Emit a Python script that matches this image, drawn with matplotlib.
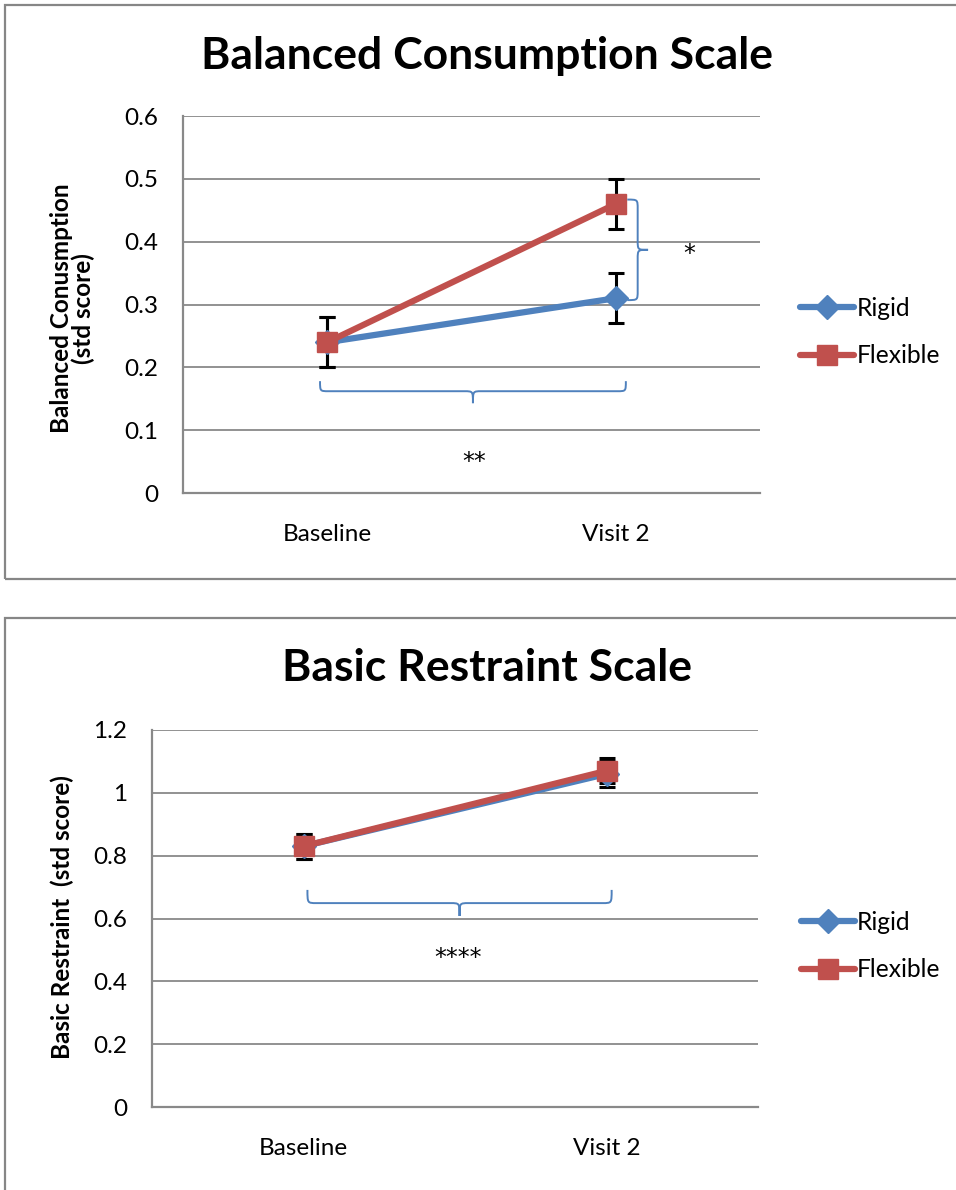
import matplotlib.pyplot as plt
import matplotlib.patches as patches
from matplotlib.path import Path

plt.rcParams['font.family'] = ['Lato', 'DejaVu Sans']

visits = ['Baseline', 'Visit 2']

# Balanced consumption
bc_rigid = [0.24, 0.31]
bc_flex = [0.24, 0.46]
bc_err = [0.04, 0.04]

# Basic restraint
br_rigid = [0.83, 1.06]
br_flex = [0.83, 1.07]
br_err = [0.04, 0.04]

BLUE = '#4F81BD'
RED = '#C0504D'
GRID = '#898989'


def hbrace(ax, x0, x1, ytop, ymid, ytip):
    # curly brace opening upward, tip points down
    xm = (x0 + x1) / 2
    dx = 0.03
    verts = [(x0, ytop), (x0, ymid), (x0, ymid), (x0 + dx, ymid),
             (xm - dx, ymid), (xm, ymid), (xm, ymid), (xm, ytip),
             (xm, ymid), (xm, ymid), (xm + dx, ymid),
             (x1 - dx, ymid), (x1, ymid), (x1, ymid), (x1, ytop)]
    codes = [Path.MOVETO, Path.CURVE4, Path.CURVE4, Path.CURVE4,
             Path.LINETO, Path.CURVE4, Path.CURVE4, Path.CURVE4,
             Path.CURVE4, Path.CURVE4, Path.CURVE4,
             Path.LINETO, Path.CURVE4, Path.CURVE4, Path.CURVE4]
    ax.add_patch(patches.PathPatch(Path(verts, codes), fill=False,
                                   edgecolor=BLUE, lw=1.4, zorder=6,
                                   clip_on=False))


def vbrace(ax, xend, xmid, xtip, y0, y1):
    # curly brace opening left, tip points right (y0 top, y1 bottom)
    ym = (y0 + y1) / 2
    dy = 0.015
    verts = [(xend, y0), (xmid, y0), (xmid, y0), (xmid, y0 - dy),
             (xmid, ym + dy), (xmid, ym), (xmid, ym), (xtip, ym),
             (xmid, ym), (xmid, ym), (xmid, ym - dy),
             (xmid, y1 + dy), (xmid, y1), (xmid, y1), (xend, y1)]
    codes = [Path.MOVETO, Path.CURVE4, Path.CURVE4, Path.CURVE4,
             Path.LINETO, Path.CURVE4, Path.CURVE4, Path.CURVE4,
             Path.CURVE4, Path.CURVE4, Path.CURVE4,
             Path.LINETO, Path.CURVE4, Path.CURVE4, Path.CURVE4]
    ax.add_patch(patches.PathPatch(Path(verts, codes), fill=False,
                                   edgecolor=BLUE, lw=1.4, zorder=6,
                                   clip_on=False))


def draw_panel(ax, rigid, flex, err, ymax, ystep, legx):
    x = range(len(visits))
    ax.errorbar(x, rigid, yerr=err, fmt='none', ecolor='black',
                elinewidth=2.2, capsize=6, capthick=2.2, zorder=3)
    ax.errorbar(x, flex, yerr=err, fmt='none', ecolor='black',
                elinewidth=2.2, capsize=6, capthick=2.2, zorder=3)
    ax.plot(x, rigid, color=BLUE, lw=4.5, marker='D', ms=12,
            label='Rigid', zorder=4, solid_capstyle='round')
    ax.plot(x, flex, color=RED, lw=4.5, marker='s', ms=14,
            label='Flexible', zorder=5, solid_capstyle='round')
    ax.set_xlim(-0.5, 1.5)
    ax.set_ylim(0, ymax)
    ticks = [round(i * ystep, 1) for i in range(int(round(ymax / ystep)) + 1)]
    ax.set_yticks(ticks)
    ax.set_yticklabels([('%g' % t) for t in ticks])
    ax.set_xticks(list(x))
    ax.set_xticklabels(visits)
    ax.tick_params(axis='both', length=0, labelsize=17.5)
    ax.tick_params(axis='y', pad=18)
    ax.tick_params(axis='x', pad=22)
    ax.grid(axis='y', color=GRID, lw=1.3)
    ax.set_axisbelow(True)
    for s in ['top', 'right']:
        ax.spines[s].set_visible(False)
    for s in ['left', 'bottom']:
        ax.spines[s].set_color(GRID)
        ax.spines[s].set_linewidth(1.6)
    ax.legend(loc='center left', bbox_to_anchor=(legx, 0.427),
              frameon=False, fontsize=17.7, handlelength=2.2,
              handletextpad=0.1, labelspacing=1.0, borderpad=0)


fig = plt.figure(figsize=(9.56, 11.9), dpi=100)

# panel frames
for y0, y1 in [(5, 579), (618, 1200)]:
    fig.add_artist(patches.Rectangle((5 / 956, 1 - y1 / 1190),
                                     1.0, (y1 - y0) / 1190,
                                     transform=fig.transFigure, fill=False,
                                     edgecolor='#868686', lw=1.6))

ax1 = fig.add_axes([183 / 956, 1 - 493 / 1190, 577 / 956, 377 / 1190])
draw_panel(ax1, bc_rigid, bc_flex, bc_err, 0.6, 0.1, 1.048)
ax1.set_ylabel('Balanced Conusmption\n(std score)', fontsize=17.5,
               fontweight='bold', linespacing=0.95)
ax1.yaxis.set_label_coords(-0.152, 0.49)
hbrace(ax1, -0.025, 1.035, 0.178, 0.162, 0.143)
vbrace(ax1, 1.04, 1.076, 1.112, 0.467, 0.307)
ax1.text(0.51, 0.05, '**', fontsize=17, family='DejaVu Sans',
         ha='center', va='center')
ax1.text(1.255, 0.38, '*', fontsize=17, family='DejaVu Sans',
         ha='center', va='center')
fig.text(487 / 956, 1 - 56 / 1190, 'Balanced Consumption Scale',
         fontsize=32, fontweight='bold', ha='center', va='center')

ax2 = fig.add_axes([152 / 956, 1 - 1107 / 1190, 606 / 956, 377 / 1190])
draw_panel(ax2, br_rigid, br_flex, br_err, 1.2, 0.2, 1.05)
ax2.set_ylabel('Basic Restraint  (std score)', fontsize=17.5,
               fontweight='bold')
ax2.yaxis.set_label_coords(-0.129, 0.505)
hbrace(ax2, 0.013, 1.017, 0.691, 0.649, 0.608)
ax2.text(0.51, 0.475, '****', fontsize=17, family='DejaVu Sans',
         ha='center', va='center')
fig.text(487 / 956, 1 - 668 / 1190, 'Basic Restraint Scale',
         fontsize=32, fontweight='bold', ha='center', va='center')

fig.savefig('out.png', dpi=100)
